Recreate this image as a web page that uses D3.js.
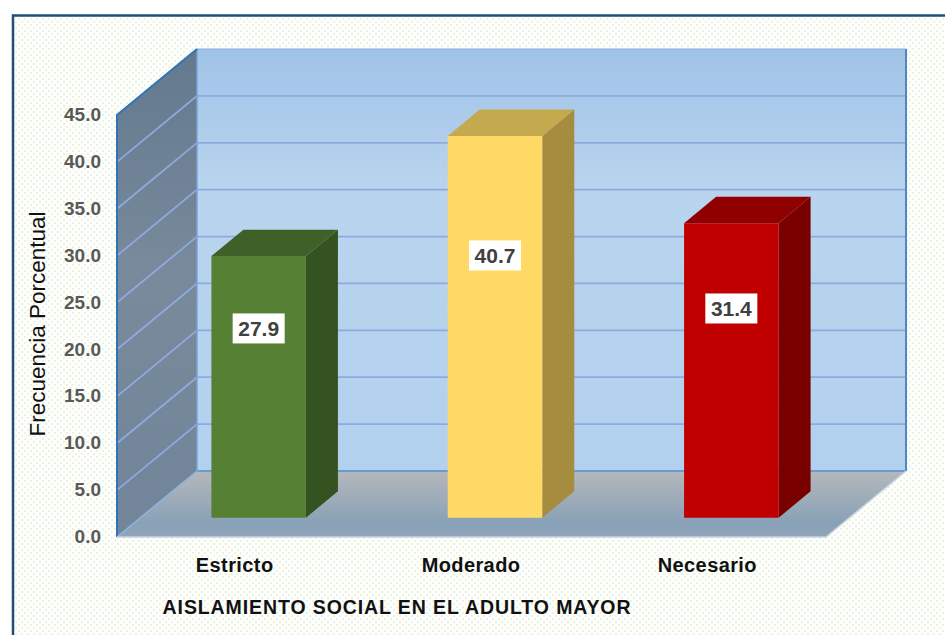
<!DOCTYPE html>
<html><head><meta charset="utf-8">
<script src="https://cdn.jsdelivr.net/npm/d3@7/dist/d3.min.js"></script>
<style>html,body{margin:0;padding:0;background:#fff}svg{display:block}text{font-family:"Liberation Sans",Arial,sans-serif}</style>
</head><body><div id="c"></div>
<script>
const categories = ["Estricto", "Moderado", "Necesario"];
const values = [27.9, 40.7, 31.4];
const frontColors = ["#568033", "#ffd966", "#c00000"];
const topColors = ["#3f6027", "#c4a94f", "#900000"];
const sideColors = ["#355320", "#a68c3f", "#7a0000"];
const tickValues = [0, 5, 10, 15, 20, 25, 30, 35, 40, 45];
const yTitle = "Frecuencia Porcentual";
const xTitle = "AISLAMIENTO SOCIAL EN EL ADULTO MAYOR";

const W = 945, H = 635;
const svg = d3.select("#c").append("svg").attr("width", W).attr("height", H);
const defs = svg.append("defs");

const pat = defs.append("pattern").attr("id", "dots").attr("width", 6).attr("height", 6).attr("patternUnits", "userSpaceOnUse");
pat.append("rect").attr("width", 6).attr("height", 6).attr("fill", "#fefffd");
pat.append("rect").attr("width", 2).attr("height", 2).attr("fill", "#ebf3e2");
pat.append("rect").attr("x", 3).attr("y", 3).attr("width", 2).attr("height", 2).attr("fill", "#ebf3e2");

function grad(id, stops, x2 = 0, y2 = 1) {
  const g = defs.append("linearGradient").attr("id", id).attr("x1", 0).attr("y1", 0).attr("x2", x2).attr("y2", y2);
  stops.forEach(s => g.append("stop").attr("offset", s[0]).attr("stop-color", s[1]));
}
grad("wall", [[0, "#9fc3e8"], [0.33, "#b9d4ee"], [1, "#b2d1ee"]]);
grad("side", [[0, "#64798f"], [0.45, "#788a9b"], [1, "#728599"]]);
grad("floor", [[0, "#b5b8bc"], [0.8, "#88a1b7"], [1, "#90a6ba"]]);

const y = d3.scaleLinear().domain([0, 45]).range([537, 115]);
const x = d3.scaleBand().domain(categories).range([117, 826]).paddingInner(0.6).paddingOuter(0.3);
const depth = d3.scaleLinear().domain([0, 1]).range([0, 1]);
const DX = 80, DY = -66;
const P = (px, v, d) => [px + DX * depth(d), y(v) + DY * depth(d)];
const poly = pts => "M" + pts.map(p => p.join(",")).join("L") + "Z";
const X0 = x.range()[0], X1 = x.range()[1];

svg.append("rect").attr("width", W).attr("height", H).attr("fill", "#fff");
svg.append("rect").attr("x", 13).attr("y", 16).attr("width", W).attr("height", H).attr("fill", "url(#dots)");
svg.append("path").attr("d", `M13,${H}V15.5H${W}`).attr("fill", "none").attr("stroke", "#1f4e79").attr("stroke-width", 2.5);

// walls
svg.append("path").attr("d", poly([P(X0, 0, 1), P(X1, 0, 1), P(X1, 45, 1), P(X0, 45, 1)])).attr("fill", "url(#wall)");
svg.append("path").attr("d", poly([P(X0, 0, 0), P(X0, 0, 1), P(X0, 45, 1), P(X0, 45, 0)])).attr("fill", "url(#side)");
svg.append("path").attr("d", poly([P(X0, 0, 0), P(X1, 0, 0), P(X1, 0, 1), P(X0, 0, 1)])).attr("fill", "url(#floor)");

// grid
const gridColor = "#8eaade";
svg.append("g").selectAll("path").data(tickValues.filter(t => t > 0)).join("path")
  .attr("d", t => d3.line()([P(X0, t, 0), P(X0, t, 1), P(X1, t, 1)]))
  .attr("fill", "none").attr("stroke", gridColor).attr("stroke-width", t => t === 45 ? 1 : 1.8);
svg.append("path").attr("d", d3.line()([P(X0, 0, 1), P(X1, 0, 1)])).attr("stroke", "#6a9bd0").attr("stroke-width", 2);
svg.append("path").attr("d", d3.line()([P(X0, 0, 1), P(X0, 45, 1)])).attr("stroke", "#7aa3d6").attr("stroke-width", 1.5);
svg.append("path").attr("d", d3.line()([P(X1, 0, 1), P(X1, 45, 1)])).attr("stroke", "#4f88c0").attr("stroke-width", 2);
svg.append("path").attr("d", d3.line()([P(X0, 0, 0), P(X0, 45, 0), P(X0, 45, 1)])).attr("fill", "none").attr("stroke", "#2f74b5").attr("stroke-width", 2);
svg.append("path").attr("d", d3.line()([P(X0, 0, 0), P(X0, 0, 1)])).attr("stroke", "#8db4e2").attr("stroke-width", 1.5);
svg.append("path").attr("d", d3.line()([P(X0, 0, 0), P(X1, 0, 0), P(X1, 0, 1)])).attr("fill", "none").attr("stroke", "#c9d3dc").attr("stroke-width", 1.5);

// bars
const d0 = 0.30, d1 = 0.70;
const bars = svg.append("g").attr("transform", "translate(-0.5,0.5)").selectAll("g").data(categories).join("g");
bars.each(function (c, i) {
  const g = d3.select(this), l = x(c), r = l + x.bandwidth(), v = values[i];
  g.append("path").attr("d", poly([P(r, 0, d0), P(r, 0, d1), P(r, v, d1), P(r, v, d0)])).attr("fill", sideColors[i]);
  g.append("path").attr("d", poly([P(l, v, d0), P(r, v, d0), P(r, v, d1), P(l, v, d1)])).attr("fill", topColors[i]);
  g.append("path").attr("d", poly([P(l, 0, d0), P(r, 0, d0), P(r, v, d0), P(l, v, d0)])).attr("fill", frontColors[i]);
  const cx = (l + r) / 2 + DX * d0;
  const cy = y(5.33 + 0.608 * v);
  g.append("rect").attr("x", cx - 26).attr("y", cy - 15).attr("width", 52).attr("height", 30).attr("fill", "#fff");
  g.append("text").attr("x", cx).attr("y", cy).attr("dy", "0.36em").attr("text-anchor", "middle")
    .attr("font-size", 21).attr("font-weight", 700).attr("fill", "#404040").text(v.toFixed(1));
});

// axes
const yAxis = svg.append("g").attr("transform", "translate(108,-0.5)")
  .call(d3.axisLeft(y).tickValues(tickValues).tickSize(0).tickPadding(7).tickFormat(d3.format(".1f")));
yAxis.select(".domain").remove();
yAxis.selectAll("text").attr("font-family", '"Liberation Sans",Arial,sans-serif').attr("font-size", 19).attr("font-weight", 700).attr("fill", "#595959");

const xAxis = svg.append("g").attr("transform", "translate(-0.5,555)")
  .call(d3.axisBottom(x).tickSize(0).tickPadding(3));
xAxis.select(".domain").remove();
xAxis.selectAll("text").attr("font-family", '"Liberation Sans",Arial,sans-serif').attr("font-size", 20).attr("font-weight", 700).attr("letter-spacing", 0.4).attr("fill", "#111");

svg.append("text").attr("transform", "translate(45,324) rotate(-90)").attr("text-anchor", "middle")
  .attr("font-size", 22.5).attr("fill", "#111").text(yTitle);
svg.append("text").attr("x", 397).attr("y", 614).attr("text-anchor", "middle")
  .attr("font-size", 19.5).attr("font-weight", 700).attr("letter-spacing", 0.9).attr("fill", "#111").text(xTitle);
</script></body></html>
